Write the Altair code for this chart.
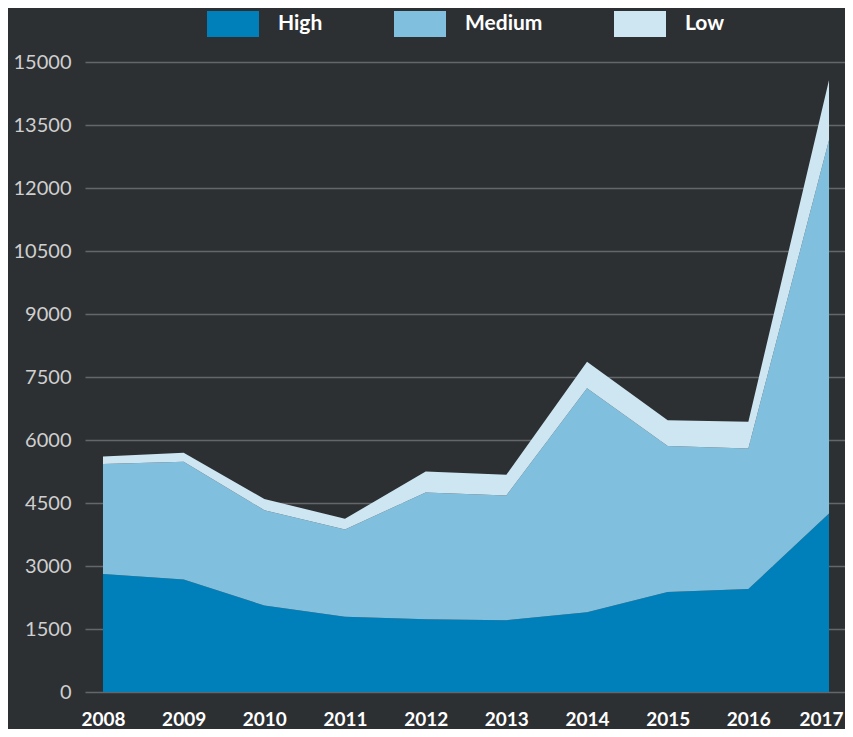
import altair as alt
import pandas as pd

years = [2008, 2009, 2010, 2011, 2012, 2013, 2014, 2015, 2016, 2017]
high = [2810, 2680, 2060, 1790, 1730, 1710, 1900, 2380, 2450, 4250]
medium = [2620, 2800, 2270, 2080, 3020, 2970, 5330, 3480, 3350, 8890]
low = [175, 215, 265, 255, 500, 490, 635, 610, 635, 1430]

series = ["High", "Medium", "Low"]
colors = ["#0080bb", "#80bfdd", "#cde6f2"]
y_ticks = [0, 1500, 3000, 4500, 6000, 7500, 9000, 10500, 12000, 13500, 15000]

rows = []
for i, name in enumerate(series):
    vals = [high, medium, low][i]
    for yr, v in zip(years, vals):
        rows.append({"year": yr, "level": name, "value": v, "order": i})
df = pd.DataFrame(rows)

bg = "#2d3033"

chart = alt.Chart(df).mark_area(opacity=1).encode(
    x=alt.X("year:Q",
            scale=alt.Scale(domain=[2007.777, 2017.198], nice=False, zero=False),
            axis=alt.Axis(values=years, format="d", title=None, grid=False,
                          ticks=False, domain=False, labelColor="#ffffff",
                          labelFont="Lato", labelFontSize=19, labelFontWeight="bold",
                          labelPadding=18, labelFlush=False,
                          labelOffset={"condition": {"test": "datum.value == 2017", "value": -8},
                                       "value": 0})),
    y=alt.Y("value:Q", stack="zero",
            scale=alt.Scale(domain=[0, 15000], nice=False),
            axis=alt.Axis(values=y_ticks, format="d", title=None, grid=True,
                          gridColor="#64676a", gridWidth=1.5, ticks=False, domain=False,
                          labelColor="#cfcfcf", labelFont="Lato", labelFontSize=20,
                          labelPadding=14)),
    color=alt.Color("level:N",
                    scale=alt.Scale(domain=series, range=colors),
                    legend=alt.Legend(title=None, orient="none", direction="horizontal",
                                      legendX=122, legendY=-64, padding=0,
                                      symbolType="M-1,-0.5H1V0.5H-1Z", symbolSize=2704,
                                      symbolStrokeWidth=0, symbolOpacity=1,
                                      labelColor="#ffffff", labelFont="Lato",
                                      labelFontSize=21, labelFontWeight="bold",
                                      labelOffset=19, columnPadding=71)),
    order=alt.Order("order:Q", sort="ascending"),
).properties(
    width=760,
    height=630,
    background=bg,
    padding={"left": 77, "top": 54, "right": 0, "bottom": 37},
    autosize=alt.AutoSizeParams(type="none"),
).configure_view(stroke=None)

chart.save("out.html", embed_options={"renderer": "svg", "actions": False})
